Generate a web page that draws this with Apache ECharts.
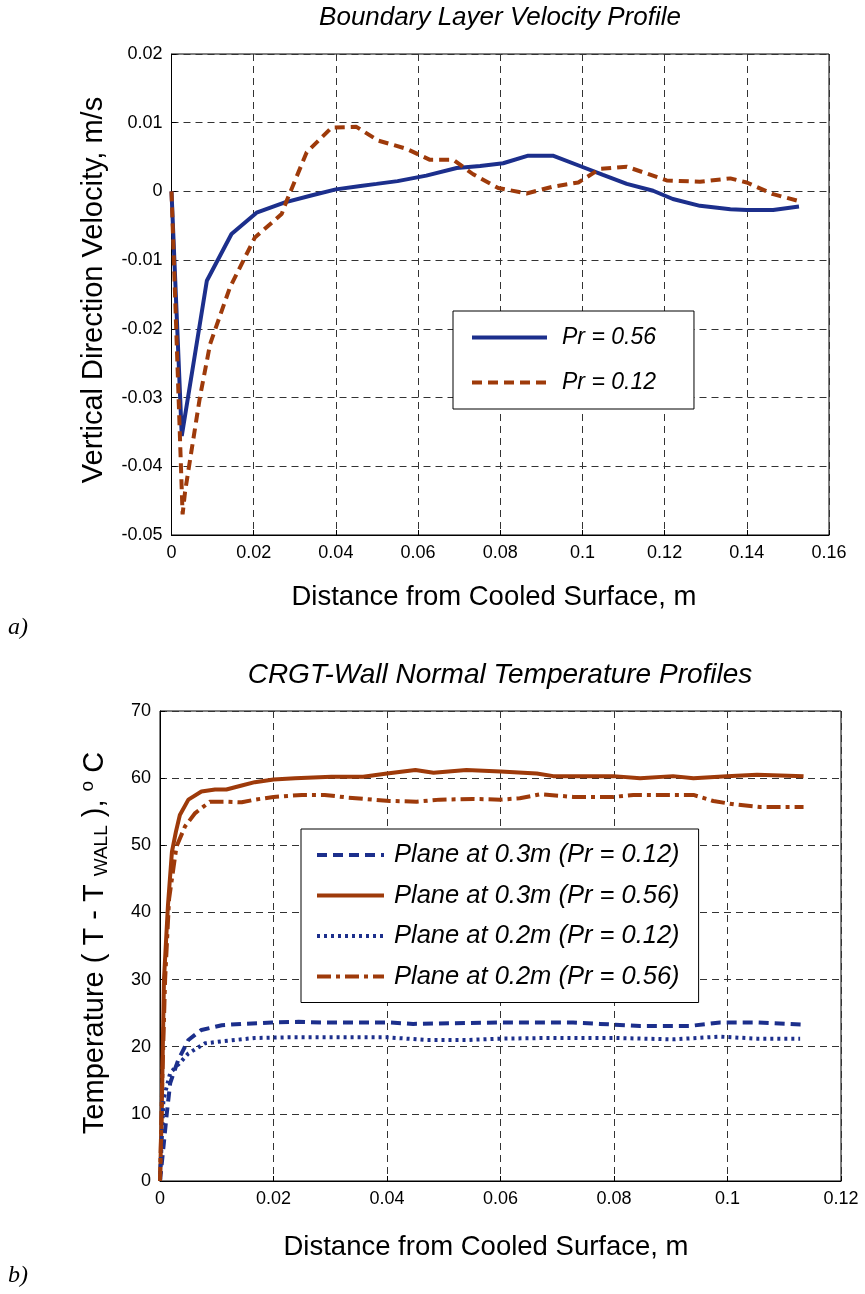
<!DOCTYPE html>
<html>
<head>
<meta charset="utf-8">
<script src="https://cdn.jsdelivr.net/npm/echarts@6/dist/echarts.min.js"></script>
<style>
  html, body { margin: 0; padding: 0; background: #fff; }
  #chart { width: 865px; height: 1294px; }
</style>
</head>
<body>
<div id="chart"></div>
<script>
// (a) velocity profile, [distance m, velocity m/s]
var velPr056 = [
  [0, 0], [0.0025, -0.0356], [0.0086, -0.013], [0.0146, -0.0062], [0.0207, -0.0031],
  [0.0276, -0.0016], [0.034, -0.0006], [0.04, 0.0003], [0.046, 0.0008], [0.0499, 0.0011],
  [0.055, 0.0015], [0.062, 0.0023], [0.0694, 0.0034], [0.0751, 0.0037], [0.0807, 0.0041],
  [0.0868, 0.0052], [0.0928, 0.0052], [0.0994, 0.0037], [0.105, 0.0024], [0.1108, 0.0011],
  [0.1172, 0.0001], [0.122, -0.0011], [0.1286, -0.0021], [0.136, -0.0026], [0.14, -0.0027],
  [0.1464, -0.0027], [0.1527, -0.0022]
];
var velPr012 = [
  [0, 0], [0.0027, -0.047], [0.0033, -0.0437], [0.0069, -0.03], [0.0094, -0.0222],
  [0.0142, -0.014], [0.0203, -0.0067], [0.0268, -0.0033], [0.028, -0.0014], [0.0329, 0.0057],
  [0.039, 0.0093], [0.045, 0.0094], [0.0503, 0.0074], [0.0572, 0.0062], [0.0629, 0.0046],
  [0.0686, 0.0046], [0.0734, 0.0025], [0.0795, 0.0005], [0.0864, -0.0003], [0.0929, 0.0007],
  [0.099, 0.0013], [0.1043, 0.0033], [0.1108, 0.0036], [0.1205, 0.0016], [0.1286, 0.0014],
  [0.136, 0.0019], [0.14, 0.0013], [0.1464, -0.0004], [0.1527, -0.0014]
];

// (b) temperature profiles, [distance m, T - Twall degC]
var temp03Pr012 = [
  [0, 0], [0.0006, 5], [0.0012, 10.1], [0.0018, 14.6], [0.0032, 18], [0.005, 21],
  [0.0073, 22.5], [0.0109, 23.2], [0.0144, 23.4], [0.0197, 23.6], [0.0244, 23.7],
  [0.0285, 23.6], [0.0405, 23.6], [0.0446, 23.4], [0.06, 23.6], [0.0728, 23.6],
  [0.0775, 23.4], [0.0846, 23.1], [0.0934, 23.1], [0.0987, 23.6], [0.1052, 23.6], [0.1131, 23.3]
];
var temp03Pr056 = [
  [0, 0], [0.0003, 10], [0.0007, 30], [0.0014, 41], [0.0021, 49], [0.0028, 52],
  [0.0035, 54.5], [0.005, 56.8], [0.0073, 58], [0.0097, 58.3], [0.0117, 58.3],
  [0.0144, 58.9], [0.0167, 59.4], [0.02, 59.8], [0.0238, 60.0], [0.0302, 60.2],
  [0.0358, 60.2], [0.04, 60.7], [0.045, 61.2], [0.0482, 60.8], [0.054, 61.2], [0.06, 61.0],
  [0.0664, 60.7], [0.0693, 60.3], [0.0799, 60.3], [0.0846, 60.0], [0.0904, 60.3],
  [0.094, 60.0], [0.0999, 60.3], [0.1052, 60.5], [0.1134, 60.3]
];
var temp02Pr012 = [
  [0, 0], [0.0003, 6], [0.0006, 12.1], [0.0018, 16.1], [0.0035, 17.6], [0.005, 19],
  [0.0079, 20.5], [0.0109, 20.8], [0.0167, 21.3], [0.0226, 21.4], [0.0314, 21.4],
  [0.04, 21.4], [0.047, 21.0], [0.054, 21.0], [0.06, 21.2], [0.0681, 21.3], [0.0799, 21.3],
  [0.0904, 21.1], [0.0987, 21.5], [0.1052, 21.2], [0.1128, 21.2]
];
var temp02Pr056 = [
  [0, 0], [0.0004, 15], [0.0009, 30], [0.0016, 42], [0.0029, 49.8], [0.0044, 52.8],
  [0.0062, 54.8], [0.0088, 56.5], [0.0115, 56.5], [0.0144, 56.4], [0.0167, 56.8],
  [0.02, 57.2], [0.025, 57.5], [0.029, 57.5], [0.0332, 57.1], [0.0405, 56.6], [0.0452, 56.5],
  [0.0493, 56.8], [0.0552, 56.9], [0.06, 56.8], [0.0634, 57.0], [0.067, 57.6], [0.0728, 57.2],
  [0.0799, 57.2], [0.0834, 57.5], [0.094, 57.5], [0.0975, 56.6], [0.1011, 56.1],
  [0.1057, 55.7], [0.1134, 55.7]
];

var BLUE = "#1c2f8c";
var RUST = "#9e3a0a";
var FONT = "'Liberation Sans', Arial, sans-serif";

function tickFmt(v) {
  return String(+v.toFixed(4));
}

function valueAxis(idx, min, max, interval) {
  return {
    type: "value",
    gridIndex: idx,
    min: min,
    max: max,
    interval: interval,
    axisLine: { show: true, onZero: false, lineStyle: { color: "#000", width: 1 } },
    axisTick: { show: true, inside: true, length: 5, lineStyle: { color: "#000" } },
    axisLabel: { color: "#000", fontSize: 18, fontFamily: FONT, margin: 9, formatter: tickFmt },
    splitLine: { show: true, lineStyle: { color: "#333", type: [7, 5], width: 1 } },
  };
}

function lineSeries(name, xi, data, color, type, width) {
  return {
    name: name,
    type: "line",
    xAxisIndex: xi,
    yAxisIndex: xi,
    data: data,
    symbol: "none",
    silent: true,
    color: color,
    lineStyle: { color: color, width: width, type: type, cap: "butt" },
  };
}

function legendBox(names, left, top, padding, gap, itemWidth, fontSize, textGap) {
  return {
    data: names,
    orient: "vertical",
    left: left,
    top: top,
    padding: padding,
    itemGap: gap,
    itemWidth: itemWidth,
    itemHeight: 4,
    borderColor: "#000",
    borderWidth: 1,
    borderRadius: 0,
    backgroundColor: "#fff",
    itemStyle: { opacity: 0 },
    lineStyle: { width: 4 },
    textStyle: { fontStyle: "italic", fontSize: fontSize, fontFamily: FONT, color: "#000", padding: [0, 0, 0, textGap] },
  };
}

var option = {
  animation: false,
  backgroundColor: "#fff",
  grid: [
    { left: 171.5, top: 54, right: 36, height: 481, show: true, borderColor: "#000", borderWidth: 1 },
    { left: 160, top: 711, right: 24, height: 470, show: true, borderColor: "#000", borderWidth: 1 },
  ],
  xAxis: [valueAxis(0, 0, 0.16, 0.02), valueAxis(1, 0, 0.12, 0.02)],
  yAxis: [valueAxis(0, -0.05, 0.02, 0.01), valueAxis(1, 0, 70, 10)],
  legend: [
    legendBox(["Pr = 0.56", "Pr = 0.12"], 453, 311, [15, 38, 15, 17], 22, 75, 23, 10),
    legendBox(
      ["Plane at 0.3m (Pr = 0.12)", "Plane at 0.3m (Pr = 0.56)", "Plane at 0.2m (Pr = 0.12)", "Plane at 0.2m (Pr = 0.56)"],
      301, 829, [13, 19, 13, 14], 14.5, 67, 25.5, 5
    ),
  ],
  series: [
    lineSeries("Pr = 0.56", 0, velPr056, BLUE, "solid", 4),
    lineSeries("Pr = 0.12", 0, velPr012, RUST, [10, 6], 4),
    lineSeries("Plane at 0.3m (Pr = 0.12)", 1, temp03Pr012, BLUE, [10, 6], 4),
    lineSeries("Plane at 0.3m (Pr = 0.56)", 1, temp03Pr056, RUST, "solid", 4),
    lineSeries("Plane at 0.2m (Pr = 0.12)", 1, temp02Pr012, BLUE, [3, 4], 4),
    lineSeries("Plane at 0.2m (Pr = 0.56)", 1, temp02Pr056, RUST, [14, 5, 4, 5], 4),
  ],
  graphic: [
    { type: "text", x: 500, y: 18, style: { text: "Boundary Layer Velocity Profile", font: "italic 26px " + FONT, fill: "#000", textAlign: "center", textVerticalAlign: "middle" } },
    { type: "text", x: 494, y: 597, style: { text: "Distance from Cooled Surface, m", font: "27.5px " + FONT, fill: "#000", textAlign: "center", textVerticalAlign: "middle" } },
    { type: "text", x: 94, y: 290, rotation: Math.PI / 2, style: { text: "Vertical Direction Velocity, m/s", font: "29px " + FONT, fill: "#000", textAlign: "center", textVerticalAlign: "middle" } },
    { type: "text", x: 18, y: 628, style: { text: "a)", font: "italic 24px 'Liberation Serif', serif", fill: "#000", textAlign: "center", textVerticalAlign: "middle" } },
    { type: "text", x: 500, y: 675, style: { text: "CRGT-Wall Normal Temperature Profiles", font: "italic 28px " + FONT, fill: "#000", textAlign: "center", textVerticalAlign: "middle" } },
    { type: "text", x: 486, y: 1247, style: { text: "Distance from Cooled Surface, m", font: "27.5px " + FONT, fill: "#000", textAlign: "center", textVerticalAlign: "middle" } },
    {
      type: "text", x: 95, y: 943, rotation: Math.PI / 2,
      style: {
        text: "Temperature ( T - T {sub|WALL} ), {sup|o} C",
        font: "29px " + FONT, fill: "#000", textAlign: "center", textVerticalAlign: "middle",
        rich: {
          sub: { fontSize: 19, fontFamily: "Liberation Sans", verticalAlign: "bottom", padding: [14, 0, 0, 0] },
          sup: { fontSize: 19, fontFamily: "Liberation Sans", verticalAlign: "top", padding: [0, 0, 14, 0] },
        },
      },
    },
    { type: "text", x: 18, y: 1276, style: { text: "b)", font: "italic 24px 'Liberation Serif', serif", fill: "#000", textAlign: "center", textVerticalAlign: "middle" } },
  ],
};

var myChart = echarts.init(document.getElementById("chart"), null, { renderer: "canvas" });
myChart.setOption(option);
</script>
</body>
</html>
